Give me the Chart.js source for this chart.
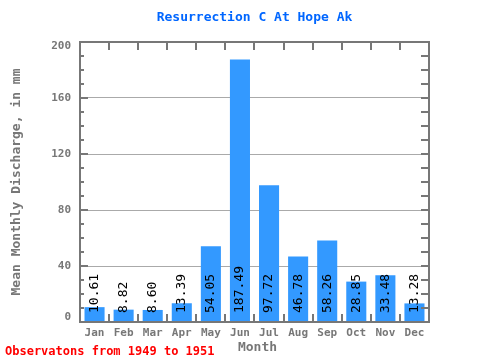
<!DOCTYPE html>
<html>
<head>
<meta charset="utf-8">
<script src="https://cdn.jsdelivr.net/npm/chart.js@4"></script>
<style>
  html, body { margin: 0; padding: 0; background: #fff; }
  #wrap { width: 480px; height: 360px; }
</style>
</head>
<body>
<div id="wrap"><canvas id="chart" width="480" height="360"></canvas></div>
<script>
// donnees
const mois = ["Jan", "Feb", "Mar", "Apr", "May", "Jun", "Jul", "Aug", "Sep", "Oct", "Nov", "Dec"];
const debits = [10.61, 8.82, 8.60, 13.39, 54.05, 187.49, 97.72, 46.78, 58.26, 28.85, 33.48, 13.28];
const graduationsY = [0, 40, 80, 120, 160, 200];

const titre = "Resurrection C At Hope Ak";
const titreY = "Mean Monthly Discharge, in mm";
const titreX = "Month";
const pied = "Observatons from 1949 to 1951";

const police = "'DejaVu Sans Mono', monospace";
const gris = "#777777";

// cadre, petites graduations et textes
const decor = {
  id: "decor",
  afterDatasetsDraw(chart) {
    const ctx = chart.ctx;
    const a = chart.chartArea;
    const x = chart.scales.x;
    const y = chart.scales.y;

    // valeurs dans les barres
    const meta = chart.getDatasetMeta(0);
    ctx.save();
    ctx.fillStyle = "#000";
    ctx.font = "13px " + police;
    ctx.textAlign = "left";
    ctx.textBaseline = "middle";
    meta.data.forEach((bar, i) => {
      ctx.save();
      ctx.translate(bar.x, a.bottom - 9);
      ctx.rotate(-Math.PI / 2);
      ctx.fillText(debits[i].toFixed(2), 0, 0);
      ctx.restore();
    });
    ctx.restore();

    ctx.save();
    ctx.strokeStyle = gris;
    ctx.lineWidth = 2;
    ctx.strokeRect(a.left, a.top, a.right - a.left, a.bottom - a.top);

    ctx.beginPath();
    // graduations verticales haut et bas
    for (let i = 1; i < mois.length; i++) {
      const px = Math.round((x.getPixelForValue(i - 1) + x.getPixelForValue(i)) / 2);
      ctx.moveTo(px, a.top);
      ctx.lineTo(px, a.top + 8);
      ctx.moveTo(px, a.bottom);
      ctx.lineTo(px, a.bottom - 8);
    }
    // graduations gauche et droite
    for (let v = 10; v < 200; v += 10) {
      const py = Math.round(y.getPixelForValue(v));
      const long = v % 40 === 0 ? 8 : 4;
      ctx.moveTo(a.left, py);
      ctx.lineTo(a.left + long, py);
      ctx.moveTo(a.right, py);
      ctx.lineTo(a.right - 8, py);
    }
    ctx.stroke();
    ctx.restore();

    // etiquettes de l'axe y, decalees aux extremites comme sur l'original
    ctx.save();
    ctx.fillStyle = gris;
    ctx.font = "bold 11px " + police;
    ctx.textAlign = "right";
    ctx.textBaseline = "middle";
    graduationsY.forEach((v) => {
      let py = y.getPixelForValue(v);
      if (v === 200) py += 4;
      if (v === 0) py -= 5;
      ctx.fillText(String(v), a.left - 9, py);
    });
    ctx.restore();

    ctx.save();
    ctx.textAlign = "center";
    ctx.textBaseline = "middle";
    ctx.fillStyle = "#0066ff";
    ctx.font = "bold 13px " + police;
    ctx.fillText(titre, (a.left + a.right) / 2, 18);

    ctx.fillStyle = gris;
    ctx.fillText(titreX, (a.left + a.right) / 2 + 3, 348);

    ctx.save();
    ctx.translate(17, (a.top + a.bottom) / 2);
    ctx.rotate(-Math.PI / 2);
    ctx.fillText(titreY, 0, 0);
    ctx.restore();

    ctx.fillStyle = "#ff0000";
    ctx.font = "bold 12px " + police;
    ctx.textAlign = "left";
    ctx.fillText(pied, 5, 352);
    ctx.restore();
  }
};

new Chart(document.getElementById("chart").getContext("2d"), {
  type: "bar",
  data: {
    labels: mois,
    datasets: [{
      data: debits,
      backgroundColor: "#3399ff",
      borderWidth: 0,
      barPercentage: 0.69,
      categoryPercentage: 1.0
    }]
  },
  options: {
    responsive: false,
    animation: false,
    layout: { padding: { top: 42, right: 51, bottom: 0, left: 0 } },
    plugins: {
      legend: { display: false },
      title: { display: false },
      tooltip: { enabled: false }
    },
    scales: {
      x: {
        afterFit: (s) => { s.height = 38; },
        grid: { display: false, drawTicks: false },
        border: { display: false },
        ticks: {
          color: gris,
          font: { family: police, size: 11, weight: "bold" },
          padding: 5,
          maxRotation: 0
        }
      },
      y: {
        min: 0,
        max: 200,
        afterFit: (s) => { s.width = 80; },
        afterBuildTicks: (s) => { s.ticks = graduationsY.map((v) => ({ value: v })); },
        grid: {
          drawTicks: false,
          color: (c) => (c.tick && (c.tick.value === 0 || c.tick.value === 200) ? "rgba(0,0,0,0)" : "#aaaaaa"),
          lineWidth: 1
        },
        border: { display: false },
        ticks: { display: false }
      }
    }
  },
  plugins: [decor]
});
</script>
</body>
</html>
